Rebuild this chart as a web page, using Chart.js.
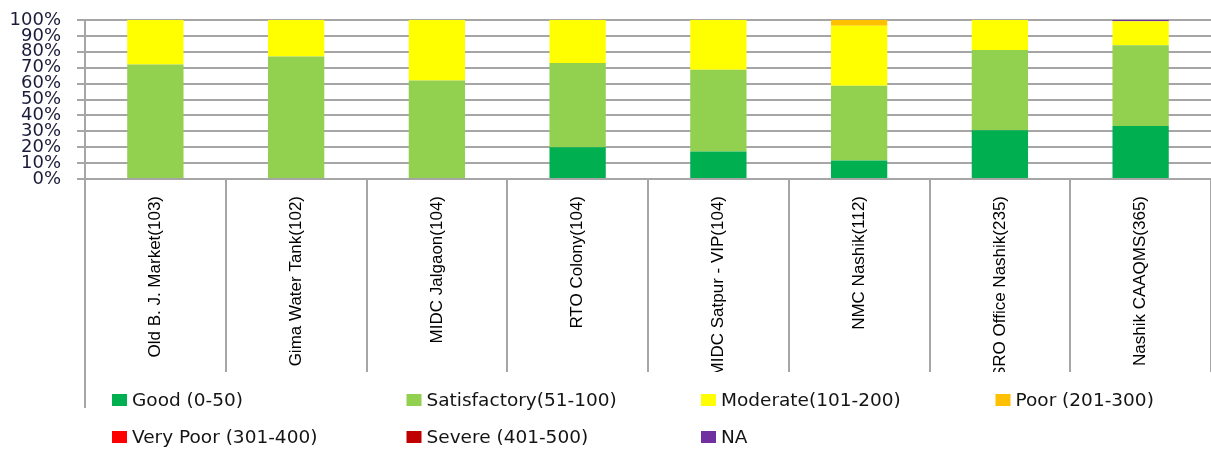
<!DOCTYPE html>
<html>
<head>
<meta charset="utf-8">
<script src="https://cdn.jsdelivr.net/npm/chart.js@4.4.1/dist/chart.umd.min.js"></script>
<style>
  html, body { margin: 0; padding: 0; background: #ffffff; }
  canvas { display: block; }
</style>
</head>
<body>
<canvas id="aqiChart" width="1211" height="449"></canvas>
<script>
// Monitoring stations (number of monitored days in brackets)
const stations = [
  'Old B. J. Market(103)',
  'Gima Water Tank(102)',
  'MIDC Jalgaon(104)',
  'RTO Colony(104)',
  'MIDC Satpur - VIP(104)',
  'NMC Nashik(112)',
  'SRO Office Nashik(235)',
  'Nashik CAAQMS(365)'
];

// Share of days (%) in each AQI band, per station
const good         = [0,  0,  0,  20.0, 17.3, 11.6, 30.6, 33.4];
const satisfactory = [72, 77, 62, 52.9, 51.4, 47.0, 50.6, 50.7];
const moderate     = [28, 23, 38, 27.1, 31.3, 37.8, 18.8, 15.1];
const poor         = [0,  0,  0,  0,    0,    3.6,  0,    0];
const veryPoor     = [0,  0,  0,  0,    0,    0,    0,    0];
const severe       = [0,  0,  0,  0,    0,    0,    0,    0];
const notAvailable = [0,  0,  0,  0,    0,    0,    0,    0.8];

// AQI band names
const bandNames = [
  'Good (0-50)',
  'Satisfactory(51-100)',
  'Moderate(101-200)',
  'Poor (201-300)',
  'Very Poor (301-400)',
  'Severe (401-500)',
  'NA'
];

// Y axis tick values (percent)
const yTickValues = [0, 10, 20, 30, 40, 50, 60, 70, 80, 90, 100];

const bandColors = ['#00B050', '#92D050', '#FFFF00', '#FFC000', '#FF0000', '#C00000', '#7030A0'];
const gridColor = '#a6a6a6';
const textColor = '#141414';

const seriesValues = [good, satisfactory, moderate, poor, veryPoor, severe, notAvailable];

// Legend laid out in fixed columns below the station labels
const bandLegend = {
  id: 'bandLegend',
  afterDraw(chart) {
    const ctx = chart.ctx;
    const left = chart.chartArea.left;
    const xs = chart.scales.x;
    ctx.save();
    // left axis line runs on past the label block
    ctx.strokeStyle = gridColor;
    ctx.lineWidth = 2;
    ctx.beginPath();
    ctx.moveTo(left, xs.bottom - 1);
    ctx.lineTo(left, xs.bottom + 36);
    ctx.stroke();

    ctx.font = '18.5px "DejaVu Sans", "Liberation Sans", sans-serif';
    ctx.textBaseline = 'middle';
    ctx.textAlign = 'left';
    chart.data.datasets.forEach((ds, i) => {
      const col = i % 4;
      const row = Math.floor(i / 4);
      const x = left + 27 + col * 294.5;
      const y = xs.bottom + 28 + row * 37;
      ctx.fillStyle = ds.backgroundColor;
      ctx.fillRect(x, y - 6, 15, 12);
      ctx.fillStyle = textColor;
      ctx.fillText(ds.label, x + 20, y + 1);
    });
    ctx.restore();
  }
};

new Chart(document.getElementById('aqiChart'), {
  type: 'bar',
  data: {
    labels: stations,
    datasets: seriesValues.map((values, i) => ({
      label: bandNames[i],
      data: values,
      backgroundColor: bandColors[i],
      borderWidth: 0,
      barPercentage: 0.4,
      categoryPercentage: 1.0
    }))
  },
  options: {
    responsive: false,
    animation: false,
    layout: { padding: { left: 0, right: 0, top: 20, bottom: 77 } },
    plugins: {
      legend: { display: false },
      tooltip: { enabled: false },
      title: { display: false }
    },
    scales: {
      x: {
        stacked: true,
        offset: true,
        afterFit(scale) { scale.height = 193; },
        grid: {
          offset: true,
          drawOnChartArea: false,
          drawTicks: true,
          tickLength: 193,
          color: gridColor,
          lineWidth: 2
        },
        border: { display: true, color: gridColor, width: 2 },
        ticks: {
          autoSkip: false,
          minRotation: 90,
          maxRotation: 90,
          padding: -176,
          color: '#000000',
          font: { family: '"Liberation Sans", Arial, sans-serif', size: 17, lineHeight: 1.1 }
        }
      },
      y: {
        stacked: true,
        min: 0,
        max: 100,
        afterFit(scale) {
          scale.width = 85;
          // keep the plot top governed by the layout padding only
          scale.paddingTop = 9;
          scale.paddingBottom = 9;
        },
        afterBuildTicks(scale) { scale.ticks = yTickValues.map(v => ({ value: v })); },
        grid: {
          color: gridColor,
          lineWidth: 2,
          drawTicks: true,
          tickLength: 8
        },
        border: { display: true, color: gridColor, width: 2 },
        ticks: {
          autoSkip: false,
          padding: 16,
          color: '#1b1b3a',
          font: { family: '"DejaVu Sans", "Liberation Sans", sans-serif', size: 18, lineHeight: 1 },
          callback: (v) => v + '%'
        }
      }
    }
  },
  plugins: [bandLegend]
});
</script>
</body>
</html>
